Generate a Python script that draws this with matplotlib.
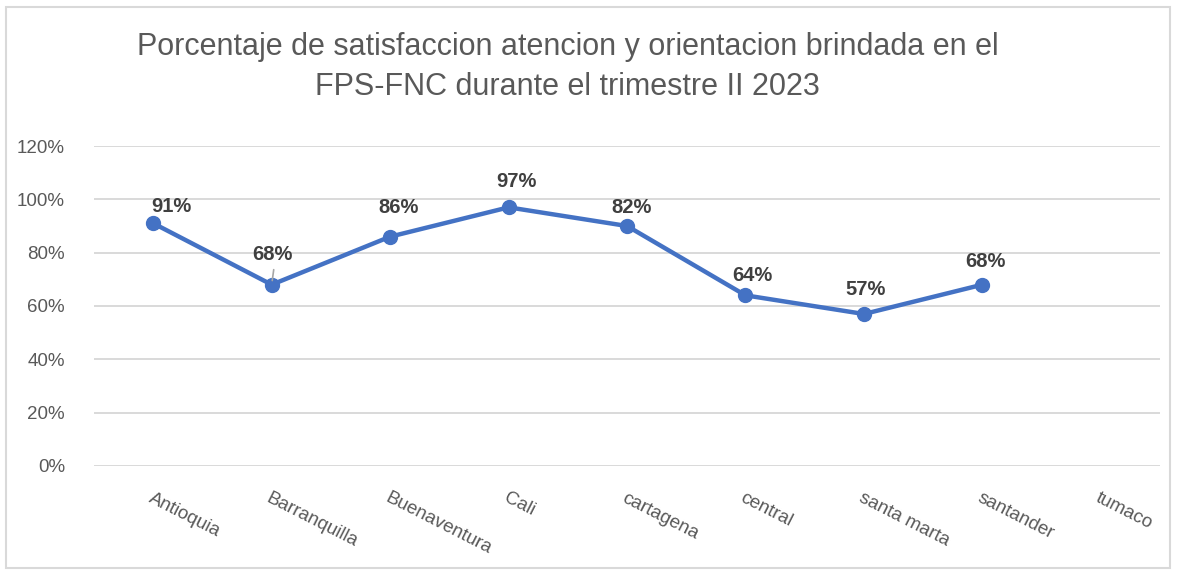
import matplotlib.pyplot as plt
from matplotlib.patches import Rectangle
import numpy as np

# Data
categories = ['Antioquia', 'Barranquilla', 'Buenaventura', 'Cali', 'cartagena',
              'central', 'santa marta', 'santander', 'tumaco']
values = [91, 68, 86, 97, 90, 64, 57, 68, np.nan]
point_labels = ['91%', '68%', '86%', '97%', '82%', '64%', '57%', '68%', '']
yticks = [0, 20, 40, 60, 80, 100, 120]

# label offsets in pixels (labels were dragged around in the original)
label_dx = [18, 1, 8, 8, 5, 7, 2, 3, 0]
label_dy = [17, 30, 29, 26, 19, 20, 24, 23, 0]

plt.rcParams['font.family'] = ['Liberation Sans', 'DejaVu Sans']

fig = plt.figure(figsize=(11.77, 5.71), dpi=100)
ax = fig.add_axes([0.0799, 0.1839, 0.9057, 0.5604])

x = np.arange(len(categories))
ax.plot(x, values, color='#4472C4', linewidth=3.2, marker='o', markersize=10,
        solid_capstyle='round', zorder=3)

# Data labels
for i, (v, lab) in enumerate(zip(values, point_labels)):
    if not lab:
        continue
    ax.annotate(lab, (i, v), xytext=(label_dx[i], label_dy[i]), textcoords='offset pixels',
                ha='center', va='center', fontsize=14.5, fontweight='bold',
                color='#404040', zorder=4)
    if label_dy[i] >= 30:
        # small leader line
        ax.annotate('', (i, v), xytext=(2, 15), textcoords='offset pixels', zorder=5,
                    arrowprops=dict(arrowstyle='-', color='#a6a6a6', lw=1.2,
                                    shrinkA=0, shrinkB=3))

ax.set_xlim(-0.5, len(categories) - 0.5)
ax.set_ylim(0, 120)
ax.set_yticks(yticks)
ax.set_yticklabels([f'{t}%' for t in yticks])
ax.set_xticks(x)
ax.set_xticklabels(categories)
ax.grid(axis='y', color='#d9d9d9', linewidth=1.4)
ax.set_axisbelow(True)
for s in ax.spines.values():
    s.set_visible(False)
ax.tick_params(axis='both', length=0, labelsize=13.5, labelcolor='#595959')
ax.tick_params(axis='x', pad=17)
ax.tick_params(axis='y', pad=21)
plt.setp(ax.get_xticklabels(), rotation=-27, ha='left', rotation_mode='anchor')

# Title
fig.text(0.482, 0.883, 'Porcentaje de satisfaccion atencion y orientacion brindada en el\nFPS-FNC durante el trimestre II 2023',
         ha='center', va='center', fontsize=22, color='#595959', linespacing=1.45)

# Chart border
fig.patches.append(Rectangle((0.005, 0.005), 0.989, 0.982, transform=fig.transFigure,
                             fill=False, edgecolor='#d9d9d9', linewidth=1.5))

plt.savefig('out.png', dpi=100)
